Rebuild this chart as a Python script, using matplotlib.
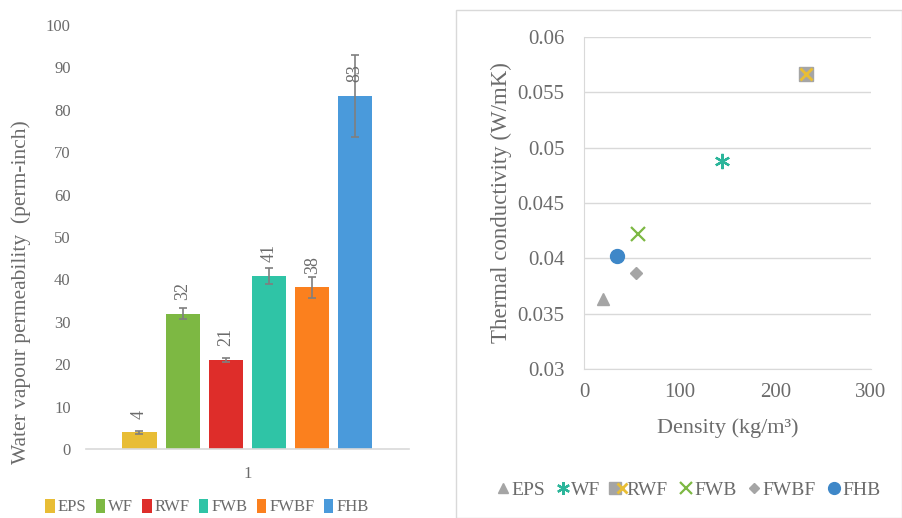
import matplotlib
matplotlib.use("Agg")
import matplotlib.pyplot as plt
from matplotlib.patches import Rectangle
from matplotlib.legend_handler import HandlerTuple

plt.rcParams["font.family"] = ["Liberation Serif", "DejaVu Serif"]

# bar chart data
materials = ["EPS", "WF", "RWF", "FWB", "FWBF", "FHB"]
permeability = [3.9, 31.9, 21.0, 40.9, 38.1, 83.3]
perm_err = [0.3, 1.3, 0.5, 1.9, 2.4, 9.7]
perm_labels = ["4", "32", "21", "41", "38", "83"]
bar_colors = ["#E8BD35", "#7DB843", "#DE2D2A", "#2FC4A6", "#FB801E", "#4A9ADB"]

# scatter data
density = [20, 144, 232, 56, 54, 34]
conductivity = [0.0363, 0.0488, 0.0567, 0.0422, 0.0387, 0.0402]

txt = "#6B6B6B"
grid = "#D9D9D9"

fig = plt.figure(figsize=(9.02, 5.18), dpi=100)

# ---- left: bar chart
ax1 = fig.add_axes([0.0953, 0.1332, 0.358, 0.8185])
xs = list(range(len(materials)))
bars = []
for i in xs:
    b = ax1.bar(i, permeability[i], width=0.79, color=bar_colors[i], label=materials[i], zorder=2)
    bars.append(b)
    ax1.errorbar(i, permeability[i], yerr=perm_err[i], color="#7F7F7F", capsize=3,
                 elinewidth=1.2, capthick=1.2, zorder=3)
    ax1.text(i, permeability[i] + 3.2, perm_labels[i], rotation=90,
             ha="center", va="bottom", color=txt, fontsize=13, zorder=4)
ax1.set_xlim(-1.24, 6.24)
ax1.set_ylim(0, 100)
ax1.set_yticks(range(0, 101, 10))
ax1.set_xticks([2.5])
ax1.set_xticklabels(["1"])
for s in ["top", "right", "left"]:
    ax1.spines[s].set_visible(False)
ax1.spines["bottom"].set_color(grid)
ax1.spines["bottom"].set_linewidth(1.2)
ax1.tick_params(axis="both", length=0, colors=txt, labelsize=12)
ax1.tick_params(axis="x", pad=12)
ax1.tick_params(axis="y", pad=11)
ax1.set_ylabel("Water vapour permeability  (perm-inch)", color=txt, fontsize=15.5)
ax1.yaxis.set_label_coords(-0.17, 0.37)
fig.legend([b[0] for b in bars], materials, loc="center", bbox_to_anchor=(207 / 902, 1 - 507 / 518),
           ncol=6, frameon=False, handlelength=0.55, handleheight=0.9, handletextpad=0.2,
           columnspacing=0.55, fontsize=12, labelcolor=txt, borderaxespad=0, borderpad=0)

# ---- right: scatter
fig.patches.append(Rectangle((456 / 902, 0), 446 / 902, 508 / 518, transform=fig.transFigure,
                             fill=False, edgecolor="#D9D9D9", linewidth=1.0))
ax2 = fig.add_axes([0.6475, 0.2876, 0.318, 0.641])
h_eps, = ax2.plot(density[0], conductivity[0], ls="none", marker="^", ms=9, color="#A5A5A5")
h_wf, = ax2.plot(density[1], conductivity[1], ls="none", marker=(6, 2, 0), ms=11,
                 color="#2BB59A", mew=1.6)
h_rwf_s, = ax2.plot(density[2], conductivity[2], ls="none", marker="s", ms=10, color="#A5A5A5")
h_rwf_x, = ax2.plot(density[2], conductivity[2], ls="none", marker="x", ms=9,
                    color="#E8BD35", mew=2)
h_fwb, = ax2.plot(density[3], conductivity[3], ls="none", marker="x", ms=10,
                  color="#7DB843", mew=1.6)
h_fwbf, = ax2.plot(density[4], conductivity[4], ls="none", marker="D", ms=6.5, color="#A5A5A5")
h_fhb, = ax2.plot(density[5], conductivity[5], ls="none", marker="o", ms=10, color="#3E87C8")
ax2.set_xlim(0, 300)
ax2.set_ylim(0.03, 0.06)
ax2.set_xticks([0, 100, 200, 300])
yt = [0.03, 0.035, 0.04, 0.045, 0.05, 0.055, 0.06]
ax2.set_yticks(yt)
ax2.set_yticklabels(["%g" % v for v in yt])
ax2.grid(axis="y", color=grid, linewidth=1.0)
ax2.set_axisbelow(True)
for s in ["top", "right"]:
    ax2.spines[s].set_visible(False)
for s in ["left", "bottom"]:
    ax2.spines[s].set_color(grid)
ax2.tick_params(axis="both", length=0, colors=txt, labelsize=15)
ax2.tick_params(axis="x", pad=10)
ax2.tick_params(axis="y", pad=14)
ax2.set_xlabel("Density (kg/m³)", color=txt, fontsize=16, labelpad=12)
ax2.set_ylabel("Thermal conductivity (W/mK)", color=txt, fontsize=16.5, labelpad=4)
fig.legend([h_eps, h_wf, (h_rwf_s, h_rwf_x), h_fwb, h_fwbf, h_fhb], materials,
           handler_map={tuple: HandlerTuple(ndivide=None, pad=0)},
           loc="center", bbox_to_anchor=(688 / 902, 1 - 490 / 518), ncol=6, frameon=False,
           handlelength=0.75, handletextpad=0.05, columnspacing=0.55, borderaxespad=0, borderpad=0,
           fontsize=14, labelcolor=txt, markerscale=0.85)

fig.savefig("out.png", dpi=100, facecolor="white")
